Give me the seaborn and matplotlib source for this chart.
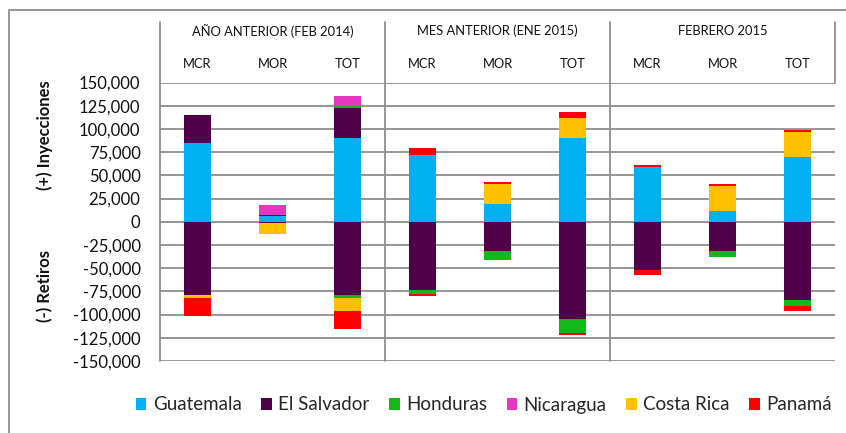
import matplotlib
matplotlib.use("Agg")
import matplotlib.pyplot as plt
from matplotlib.patches import Patch, Rectangle
import seaborn as sns

# Data
groups = ["AÑO ANTERIOR (FEB 2014)", "MES ANTERIOR (ENE 2015)", "FEBRERO 2015"]
subcats = ["MCR", "MOR", "TOT"]
countries = ["Guatemala", "El Salvador", "Honduras", "Nicaragua", "Costa Rica", "Panamá"]
colors = ["#00B0F0", "#500048", "#12B818", "#E536C4", "#FFC000", "#FF0000"]

# (+) Inyecciones, one value per bar (3 groups x MCR/MOR/TOT)
pos_guatemala = [85000, 6000, 90000, 72000, 19000, 90000, 59000, 12000, 70000]
pos_elsalvador = [30000, 1500, 32000, 0, 0, 0, 0, 0, 0]
pos_honduras = [0, 0, 2500, 0, 0, 0, 0, 0, 0]
pos_nicaragua = [0, 11000, 11000, 0, 0, 0, 0, 0, 0]
pos_costarica = [0, 0, 0, 0, 21500, 21500, 0, 27000, 27000]
pos_panama = [0, 0, 0, 7000, 1800, 7000, 1800, 1800, 2000]

# (-) Retiros
neg_guatemala = [0, 0, 0, 0, 0, 0, 0, 0, 0]
neg_elsalvador = [-79000, -1000, -79000, -73500, -32000, -105000, -52000, -32000, -84500]
neg_honduras = [0, 0, -3500, -4300, -9300, -14300, 0, -5700, -6100]
neg_nicaragua = [0, 0, 0, 0, 0, 0, 0, 0, 0]
neg_costarica = [-3000, -12500, -13300, 0, 0, 0, 0, 0, 0]
neg_panama = [-20000, 0, -19700, -1800, 0, -2500, -5400, 0, -5400]

yticks = list(range(-150000, 150001, 25000))

pos_series = [pos_guatemala, pos_elsalvador, pos_honduras, pos_nicaragua, pos_costarica, pos_panama]
neg_series = [neg_guatemala, neg_elsalvador, neg_honduras, neg_nicaragua, neg_costarica, neg_panama]

sns.set_style("white")
plt.rcParams["font.family"] = ["Lato", "DejaVu Sans"]

W, H = 846, 433
fig = plt.figure(figsize=(W / 100, H / 100), dpi=100)
ax_left, ax_right, ax_top, ax_bot = 160, 835, 82.5, 361
ax = fig.add_axes([ax_left / W, 1 - ax_bot / H, (ax_right - ax_left) / W, (ax_bot - ax_top) / H])

xpos = list(range(len(groups) * len(subcats)))

# stacked bars: draw cumulative totals from the outermost segment inward
for series in (pos_series, neg_series):
    for i in range(len(countries) - 1, -1, -1):
        cum = [sum(s[j] for s in series[: i + 1]) for j in xpos]
        sns.barplot(x=xpos, y=cum, color=colors[i], width=0.35, saturation=1,
                    linewidth=0, errorbar=None, ax=ax)

ax.set_xlim(-0.5, 8.5)
ax.set_ylim(-150000, 150000)
ax.set_yticks(yticks)
ax.set_yticklabels([f"{v:,}" for v in yticks], fontsize=12, color="#111111")
ax.tick_params(axis="y", length=0, pad=14)
ax.set_xticks([])
ax.set_xlabel("")
ax.set_ylabel("")
ax.set_axisbelow(True)
ax.yaxis.grid(True, color="#8f8f8f", linewidth=1.3)
for sp in ["top", "right", "bottom", "left"]:
    ax.spines[sp].set_visible(False)

# header with group / sub category labels and separators
extra = (ax_top - 22) / (ax_bot - ax_top)
for xv in [-0.5, 2.5, 5.5]:
    ax.axvline(xv, ymin=0, ymax=1 + extra, color="#8f8f8f", lw=1.3, clip_on=False)
ax.axvline(8.5, ymin=1, ymax=1 + extra, color="#8f8f8f", lw=1.3, clip_on=False)

trans = ax.get_xaxis_transform()
y_group = 1 + (ax_top - 31) / (ax_bot - ax_top)
y_sub = 1 + (ax_top - 64) / (ax_bot - ax_top)
for g, name in enumerate(groups):
    ax.text(g * 3 + 1, y_group, name, transform=trans, ha="center", va="center",
            fontsize=9.3, color="#111111", clip_on=False)
    for k, sc in enumerate(subcats):
        ax.text(g * 3 + k, y_sub, sc, transform=trans, ha="center", va="center",
                fontsize=9.3, color="#111111", clip_on=False)

# axis titles
fig.text(45 / W, 1 - 135 / H, "(+) Inyecciones", rotation=90, ha="center", va="center",
         fontsize=12, fontweight="bold", color="#111111")
fig.text(45 / W, 1 - 286 / H, "(-) Retiros", rotation=90, ha="center", va="center",
         fontsize=12, fontweight="bold", color="#111111")

handles = [Patch(facecolor=c, edgecolor="none", label=n) for c, n in zip(colors, countries)]
fig.legend(handles=handles, loc="center", bbox_to_anchor=(484 / W, 1 - 405 / H), ncol=6,
           frameon=False, fontsize=13.5, handlelength=0.55, handleheight=0.55,
           handletextpad=0.35, columnspacing=1.05, borderpad=0.2)

# outer chart frame
fig.patches.append(Rectangle((9 / W, -0.1), 1.2, 1 - 10 / H + 0.1, transform=fig.transFigure,
                             fill=False, edgecolor="#8f8f8f", lw=1.3))

fig.savefig("out.png", dpi=100)
